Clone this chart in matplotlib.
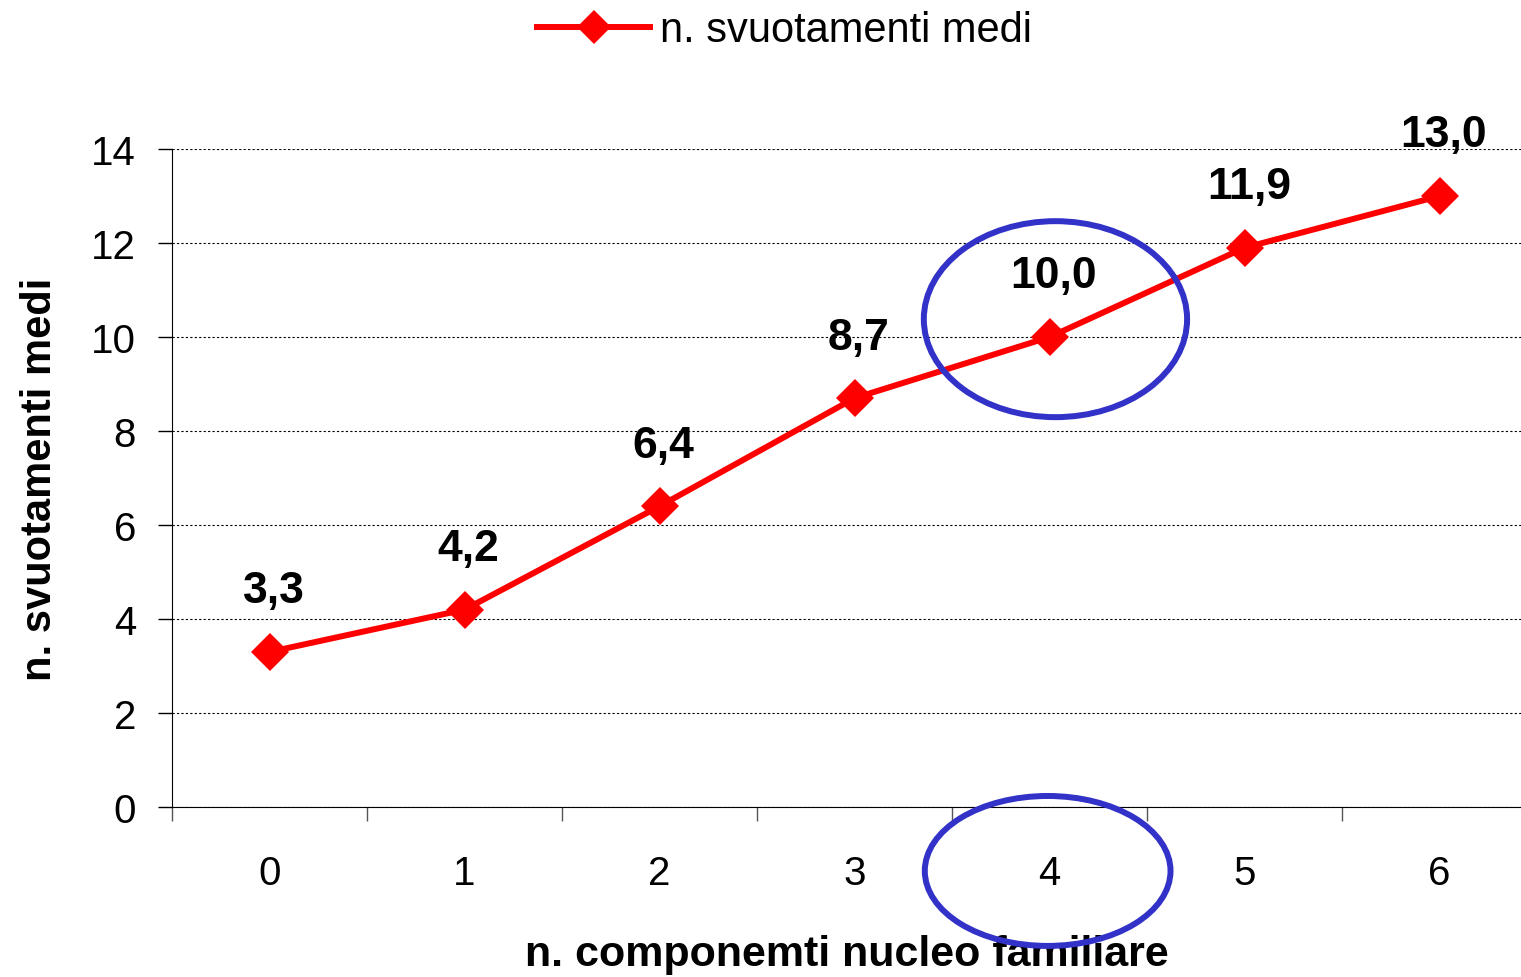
import matplotlib
matplotlib.use("Agg")
import matplotlib.pyplot as plt
from matplotlib.patches import Ellipse
from matplotlib.lines import Line2D

plt.rcParams['font.family'] = ['Liberation Sans', 'DejaVu Sans']

# dati
componenti = [0, 1, 2, 3, 4, 5, 6]
svuotamenti = [3.3, 4.2, 6.4, 8.7, 10.0, 11.9, 13.0]
etichette = ["3,3", "4,2", "6,4", "8,7", "10,0", "11,9", "13,0"]
y_ticks = [0, 2, 4, 6, 8, 10, 12, 14]

fig = plt.figure(figsize=(15.21, 9.78), dpi=100)
ax = fig.add_axes([0.1131, 0.1738, 0.887, 0.6728])

ax.plot(componenti, svuotamenti, color='#FF0000', lw=4.3, marker='D',
        markersize=19, markeredgewidth=0, zorder=3)

for x, y, t in zip(componenti, svuotamenti, etichette):
    ax.annotate(t, (x, y), xytext=(3, 44), textcoords='offset points',
                ha='center', va='center', fontsize=32, fontweight='bold')

ax.set_xlim(-0.5, 6.418)
ax.set_ylim(0, 14)
ax.set_yticks(y_ticks)
ax.set_xticks(componenti)
ax.set_xticks([c - 0.5 for c in componenti], minor=True)
ax.tick_params(axis='x', which='major', length=0, pad=34, labelsize=29)
ax.tick_params(axis='x', which='minor', length=10, width=1, color='#555555')
ax.tick_params(axis='y', length=10, width=1, pad=16, labelsize=29)

ax.grid(axis='y', color='black', linestyle=(0, (2, 2)), lw=0.8)
ax.set_axisbelow(True)
for s in ['top', 'right']:
    ax.spines[s].set_visible(False)

ax.set_xlabel("n. componemti nucleo familiare", fontsize=31, fontweight='bold', labelpad=30)
ax.set_ylabel("n. svuotamenti medi", fontsize=30, fontweight='bold', labelpad=22)

# cerchi blu
blu = '#3232C8'
ax.add_patch(Ellipse((4.03, 10.38), 1.35, 4.17, fill=False, ec=blu, lw=4.3,
                     clip_on=False, zorder=4))
ax.add_patch(Ellipse((3.99, -1.36), 1.26, 3.19, fill=False, ec=blu, lw=4.3,
                     clip_on=False, zorder=4))

handle = Line2D([], [], color='#FF0000', lw=4.3, marker='D', markersize=17,
                markeredgewidth=0)
fig.legend([handle], ["n. svuotamenti medi"], loc='center', bbox_to_anchor=(0.516, 0.968),
           frameon=False, fontsize=30, handlelength=2.7, handletextpad=0.25)

fig.savefig("out.png", dpi=100)
